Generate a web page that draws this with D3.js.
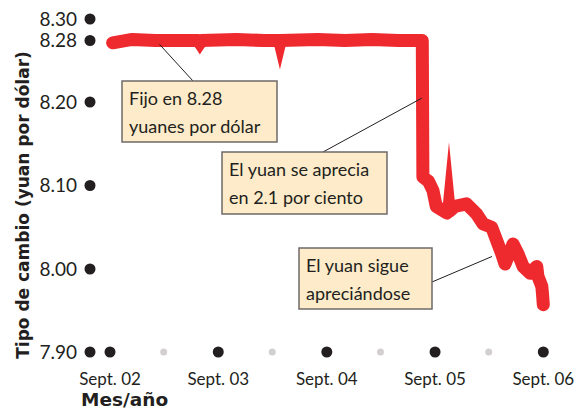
<!DOCTYPE html>
<html>
<head>
<meta charset="utf-8">
<script src="https://cdn.jsdelivr.net/npm/d3@7"></script>
<style>
  body { margin: 0; background: #fff; }
  svg { font-family: Lato, "Noto Sans", sans-serif; }
</style>
</head>
<body>
<div id="chart"></div>
<script>
const width = 578, height = 412

// tipo de cambio yuan/dolar (aprox.)
const fechas = ["2002-09-10","2002-11-15","2003-02-01","2003-05-01","2003-06-26","2003-07-01","2003-07-06",
  "2003-11-01","2004-02-01","2004-03-26","2004-03-27","2004-03-28","2004-08-01","2004-11-01",
  "2005-02-01","2005-05-01","2005-07-20",
  "2005-07-22","2005-08-10","2005-08-25","2005-09-05","2005-10-11","2005-10-17","2005-10-18","2005-10-19",
  "2005-11-07","2005-12-16",
  "2006-01-19","2006-02-10","2006-03-11","2006-03-28","2006-04-14","2006-04-25","2006-05-22",
  "2006-06-08","2006-06-25","2006-07-18","2006-08-10","2006-08-14","2006-08-27","2006-08-30","2006-09-01"]
const valores = [8.277, 8.281, 8.280, 8.280, 8.280, 8.2771, 8.280,
  8.281, 8.280, 8.280, 8.2784, 8.280, 8.281, 8.280,
  8.281, 8.280, 8.280,
  8.110, 8.105, 8.094, 8.075, 8.067, 8.069, 8.0726, 8.069,
  8.075, 8.078,
  8.066, 8.054, 8.050, 8.034, 8.018, 8.006, 8.030,
  8.018, 8.003, 7.995, 8.003, 7.991, 7.979, 7.967, 7.957]

// saltos bruscos de un dia que en el original quedan como picos finos
const picos = ["2003-07-01","2004-03-27","2005-10-18"]

const yTicks = [7.90, 8.00, 8.10, 8.20, 8.28, 8.30]
const xTicks = ["2002-09-01","2003-09-01","2004-09-01","2005-09-01","2006-09-01"]
const xTickLabels = ["Sept. 02","Sept. 03","Sept. 04","Sept. 05","Sept. 06"]
const xMinorTicks = ["2003-03-01","2004-03-01","2005-03-01","2006-03-01"]

const notas = [
  { lineas: ["Fijo en 8.28", "yuanes por dólar"], fecha: "2003-02-15", valor: 8.275 },
  { lineas: ["El yuan se aprecia", "en 2.1 por ciento"], fecha: "2005-07-18", valor: 8.205 },
  { lineas: ["El yuan sigue", "apreciándose"], fecha: "2006-03-12", valor: 8.015 }
]

const parse = d3.timeParse("%Y-%m-%d")
const data = fechas.map((f, i) => ({ date: parse(f), value: valores[i] }))

const svg = d3.select("#chart").append("svg")
  .attr("width", width).attr("height", height)

const x = d3.scaleTime()
  .domain([parse("2002-09-01"), parse("2006-09-01")])
  .range([110, 543.3])

// escala por tramos: el grafico original no es del todo lineal entre 8.20 y 8.30
const y = d3.scaleLinear()
  .domain([7.90, 8.00, 8.10, 8.20, 8.28, 8.30])
  .range([352, 269, 185.5, 102, 40.5, 19])

// puntos de los ejes
svg.selectAll(".ydot").data(yTicks).enter().append("circle")
  .attr("cx", 90).attr("cy", d => y(d)).attr("r", 5.5).attr("fill", "#231f20")

svg.selectAll(".ylab").data(yTicks).enter().append("text")
  .attr("x", 77).attr("y", d => y(d)).attr("dy", "0.36em")
  .attr("text-anchor", "end").attr("font-size", 19).attr("fill", "#231f20")
  .text(d => d.toFixed(2))

svg.selectAll(".xminor").data(xMinorTicks).enter().append("circle")
  .attr("cx", d => x(parse(d))).attr("cy", y(7.90)).attr("r", 3.5).attr("fill", "#d3cfd1")

svg.selectAll(".xdot").data(xTicks).enter().append("circle")
  .attr("cx", d => x(parse(d))).attr("cy", y(7.90)).attr("r", 5.5).attr("fill", "#231f20")

svg.selectAll(".xlab").data(xTicks).enter().append("text")
  .attr("x", d => x(parse(d))).attr("y", 385)
  .attr("text-anchor", "middle").attr("font-size", 17).attr("fill", "#231f20")
  .text((d, i) => xTickLabels[i])

svg.append("text")
  .attr("x", 81).attr("y", 406)
  .attr("font-family", "'DejaVu Sans', sans-serif")
  .attr("font-size", 18.5).attr("font-weight", "bold").attr("fill", "#231f20")
  .text("Mes/año")

svg.append("text")
  .attr("transform", "translate(29,205) rotate(-90)")
  .attr("text-anchor", "middle")
  .attr("font-family", "'DejaVu Sans', sans-serif")
  .attr("font-size", 17).attr("font-weight", "bold").attr("fill", "#231f20")
  .text("Tipo de cambio (yuan por dólar)")

// linea del tipo de cambio
const line = d3.line().x(d => x(d.date)).y(d => y(d.value))

svg.append("path")
  .datum(data)
  .attr("fill", "none")
  .attr("stroke", "#ee2a2f")
  .attr("stroke-width", 13)
  .attr("stroke-linejoin", "round")
  .attr("stroke-linecap", "round")
  .attr("d", line)

picos.forEach(p => {
  const i = fechas.indexOf(p)
  svg.append("path")
    .datum(data.slice(i - 1, i + 2))
    .attr("fill", "none")
    .attr("stroke", "#ee2a2f")
    .attr("stroke-width", 13)
    .attr("stroke-linejoin", "miter")
    .attr("stroke-miterlimit", 20)
    .attr("d", line)
})

// cajas de notas
const cajas = [
  { x: 122, y: 81, w: 155, h: 61, ax: 193, ay: 81 },
  { x: 222, y: 152, w: 165, h: 62, ax: 323, ay: 152 },
  { x: 299, y: 248, w: 133, h: 61, ax: 432, ay: 282 }
]

notas.forEach((n, i) => {
  const c = cajas[i]
  svg.append("line")
    .attr("x1", c.ax).attr("y1", c.ay)
    .attr("x2", x(parse(n.fecha))).attr("y2", y(n.valor))
    .attr("stroke", "#231f20").attr("stroke-width", 1)
  svg.append("rect")
    .attr("x", c.x).attr("y", c.y).attr("width", c.w).attr("height", c.h)
    .attr("fill", "#fdebc9").attr("stroke", "#6d6a68").attr("stroke-width", 1.5)
  n.lineas.forEach((t, j) => {
    svg.append("text")
      .attr("x", c.x + 7).attr("y", c.y + 24 + j * 28)
      .attr("font-size", 18).attr("fill", "#231f20")
      .text(t)
  })
})
</script>
</body>
</html>
